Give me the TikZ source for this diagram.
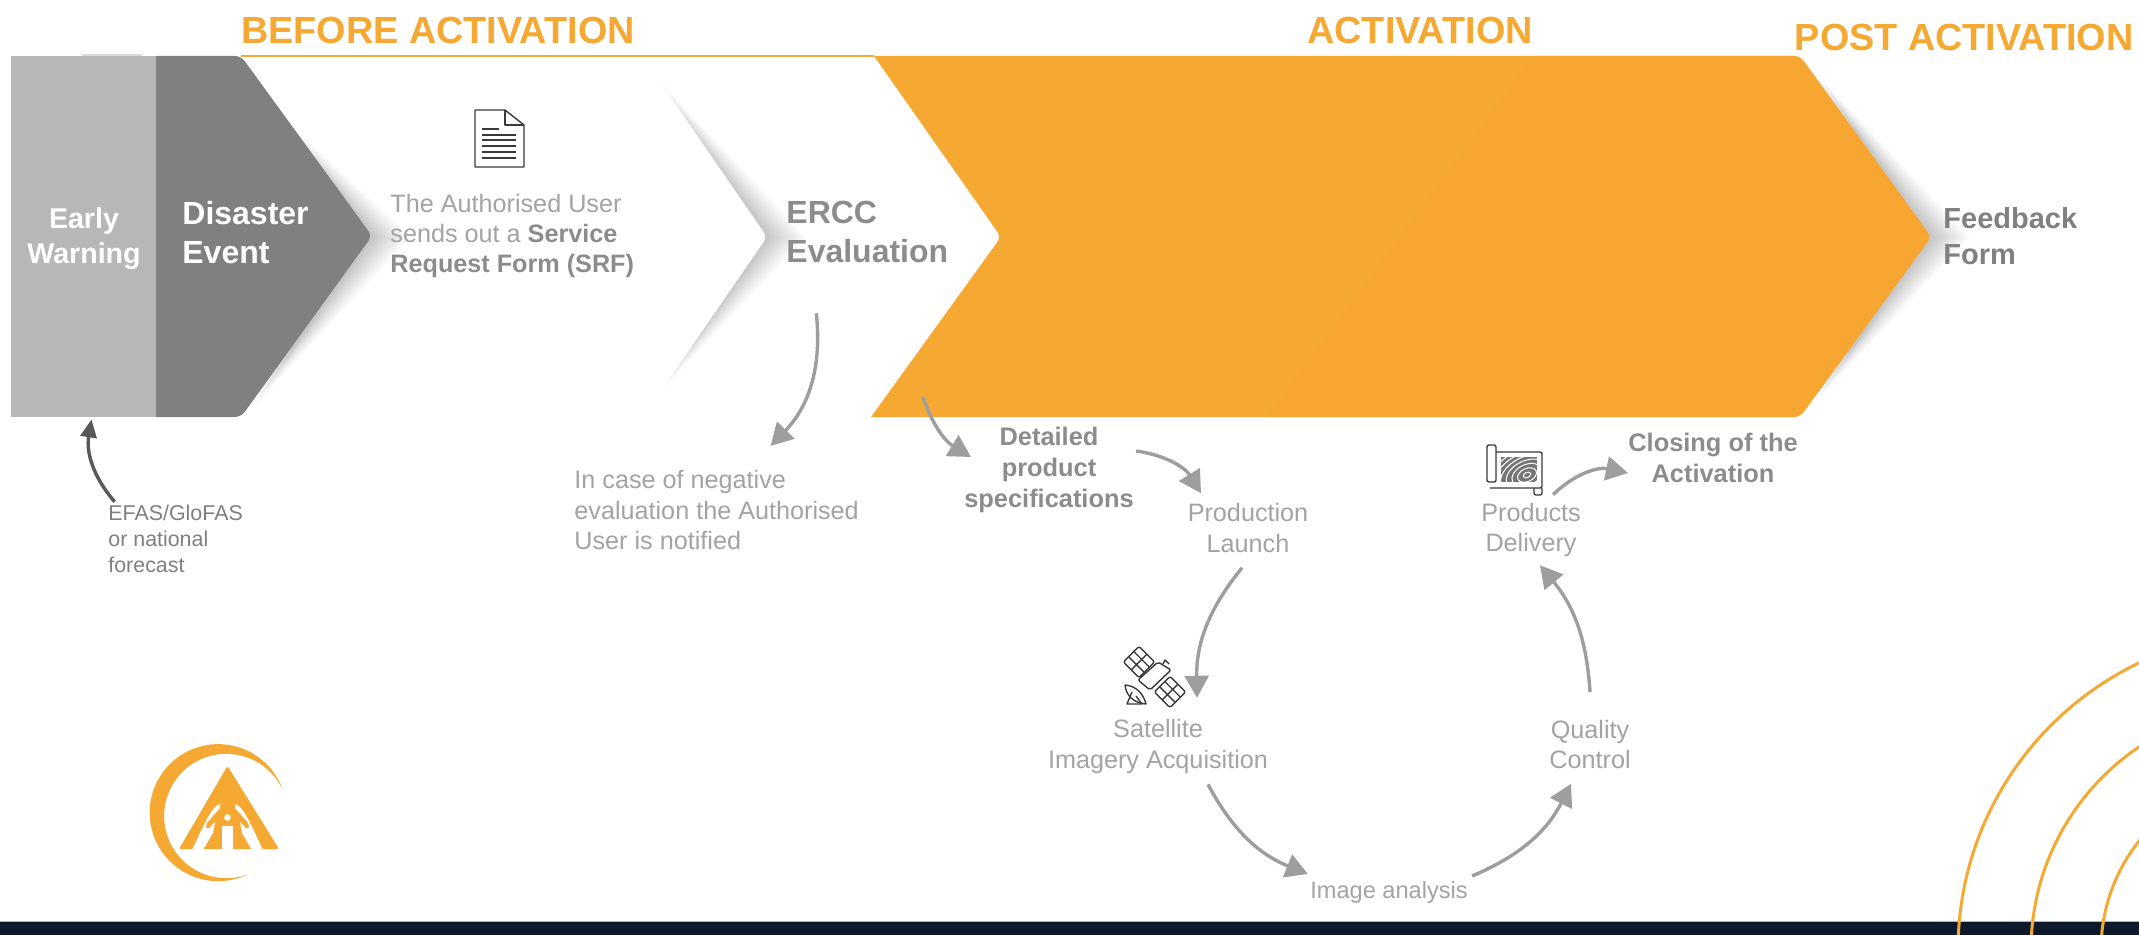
\documentclass[tikz,border=0pt]{standalone}
\usepackage{fontspec}
\setmainfont{Liberation Sans}
\usetikzlibrary{arrows.meta}
\definecolor{bannerorange}{HTML}{F5A933}
\definecolor{bannerdeep}{HTML}{F6A631}
\definecolor{earlygrey}{HTML}{B7B7B7}
\definecolor{eventgrey}{HTML}{808080}
\definecolor{softtext}{HTML}{A3A3A3}
\definecolor{boldtext}{HTML}{8C8C8C}
\definecolor{arrowgrey}{HTML}{9E9E9E}
\definecolor{iconline}{HTML}{3A3A3A}
\definecolor{footbar}{HTML}{0E1A2B}
\newcommand{\tipshadow}[3]{%
	\foreach \d in {1,...,14}
		\fill[black,opacity=0.014] ({#1-0.7*(237-#2-4*(15-\d))},{#2+4*(15-\d)})--(#1+2.8*\d,237)--({#1-0.7*(#3-4*(15-\d)-237)},{#3-4*(15-\d)})--cycle;
}
\tikzset{
	stagetitle/.style={text=bannerorange,font=\fontsize{18.9}{20}\selectfont\bfseries,inner sep=0pt},
	softlabel/.style={text=softtext,font=\fontsize{12.6}{15.2}\selectfont,inner sep=0pt},
	boldlabel/.style={text=boldtext,font=\fontsize{12.7}{15.4}\selectfont\bfseries,inner sep=0pt},
	biglabel/.style={text=boldtext,font=\fontsize{16}{19.5}\selectfont\bfseries,inner sep=0pt,align=left},
	flowarrow/.style={draw=arrowgrey,line width=1.7pt,-{Triangle[length=11pt,width=12pt]}},
	iconpen/.style={draw=iconline,line width=0.7pt,line join=round},
	solarpanel/.pic={
		\draw[iconpen,rounded corners=1pt] (-11,-11) rectangle (11,11);
		\draw[iconpen] (-3.7,-11)--(-3.7,11) (3.7,-11)--(3.7,11) (-11,0)--(11,0);
	}
}
\begin{document}
\begin{tikzpicture}[x=0.5pt,y=-0.5pt]
	\useasboundingbox (0,0) rectangle (2139,935);
	\clip (0,0) rectangle (2139,935);
	\fill[white] (0,0) rectangle (2139,935);
	% foot bar and rings
	\fill[footbar] (0,921) rectangle (2139,935);
	\draw[gray!60,line width=0.5pt] (0,921)--(2139,921);
	\foreach \ringr in {318,245,175}
		\draw[bannerorange,line width=1.5pt] (2276,950) circle[radius=\ringr];
	% shadows and banner
	\tipshadow{1931}{70}{405}
	\fill[bannerorange] (874,56)[rounded corners=3pt]--(1800,56)--(1931,237)--(1800,417)[sharp corners]--(871,417)[rounded corners=3pt]--(1001,237)[sharp corners]--cycle;
	\fill[bannerdeep] (1533,56)[rounded corners=3pt]--(1800,56)--(1931,237)--(1800,417)[sharp corners]--(1267,417)--cycle;
	\tipshadow{767}{70}{400}
	\fill[white,rounded corners=3pt] (643,57)--(767,237)--(643,417)--(240,417)--(240,57)--cycle;
	\tipshadow{372}{130}{410}
	\fill[eventgrey,rounded corners=3pt] (150,56)--(241,56)--(372,236)--(241,417)--(150,417)--cycle;
	\draw[bannerorange,line width=1pt] (241,56)--(874,56);
	\fill[black!14] (82,54) rectangle (142,56);
	\node[fill=earlygrey,minimum width=72.5pt,minimum height=180.5pt,inner sep=0pt] (early) at (83.5,236.5) {};
	\node[text=white,align=center,inner sep=0pt,font=\fontsize{14.3}{17.5}\selectfont\bfseries] (earlytext) at (84,238.5) {Early\\Warning};
	\coordinate (orangefoot) at (923,397);
	% stage titles
	\node[stagetitle] (before) at (438,30) {BEFORE ACTIVATION};
	\node[stagetitle] (during) at (1420,30) {ACTIVATION};
	\node[stagetitle,anchor=east] (post) at (2134,37) {POST ACTIVATION};
	% texts on the banner
	\node[anchor=west,text=white,align=left,inner sep=0pt,font=\fontsize{16}{19.5}\selectfont\bfseries] (event) at (182,233) {Disaster\\Event};
	\node[softlabel,anchor=west,align=left] (srf) at (390,236) {The Authorised User\\sends out a \textcolor{boldtext}{\bfseries Service}\\\textcolor{boldtext}{\bfseries Request Form (SRF)}};
	\node[biglabel,anchor=west] (ercc) at (786,232) {ERCC\\Evaluation};
	\node[anchor=west,text=eventgrey,align=left,inner sep=0pt,font=\fontsize{14.5}{18}\selectfont\bfseries] (feedback) at (1943,236) {Feedback\\Form};
	% texts under the banner
	\node[anchor=west,text=eventgrey,align=left,inner sep=0pt,font=\fontsize{10.7}{13}\selectfont] (efas) at (108,539) {EFAS/GloFAS\\or national\\forecast};
	\node[softlabel,anchor=west,align=left] (negative) at (574,510) {In case of negative\\evaluation the Authorised\\User is notified};
	\node[boldlabel,align=center] (detail) at (1049,470) {Detailed\\product\\specifications};
	\node[softlabel,align=center] (launch) at (1248,528) {Production\\Launch};
	\node[softlabel,align=center] (satellite) at (1158,746.5) {Satellite\\Imagery Acquisition};
	\node[softlabel,font=\fontsize{11.8}{14}\selectfont] (analysis) at (1389,892) {Image analysis};
	\node[softlabel,align=center] (quality) at (1590,744.5) {Quality\\Control};
	\node[softlabel,align=center] (delivery) at (1531,530) {Products\\Delivery};
	\node[boldlabel,align=center] (closing) at (1713,458) {Closing of the\\Activation};
	% connectors
	\draw[draw=iconline!85,line width=1.7pt,-{Triangle[length=9pt,width=8pt]}] ([xshift=-30.5pt,yshift=1.5pt]efas.north) to[bend left=25] ([xshift=4pt,yshift=-1pt]early.south);
	\draw[flowarrow] ([xshift=-25.5pt,yshift=-25pt]ercc.south) to[bend left=25] ([xshift=27pt,yshift=12pt]negative.north);
	\draw[flowarrow] (orangefoot) to[bend right=20] ([xshift=3.5pt,yshift=6.5pt]detail.west);
	\draw[flowarrow] ([xshift=1pt,yshift=9.5pt]detail.east) to[bend left=25] ([xshift=-23.5pt,yshift=5pt]launch.north);
	\draw[flowarrow] ([xshift=-3pt,yshift=-7.5pt]launch.south) to[bend right=20] ([xshift=19.5pt,yshift=10.7pt]satellite.north);
	\draw[flowarrow] ([xshift=25pt,yshift=-5.3pt]satellite.south) to[bend right=20] ([xshift=-1pt,yshift=9pt]analysis.west);
	\draw[flowarrow] ([xshift=2pt,yshift=8pt]analysis.east) to[bend right=20] ([xshift=-9.5pt,yshift=-7.2pt]quality.south);
	\draw[flowarrow] ([yshift=13.8pt]quality.north) to[bend right=18] ([xshift=4.5pt,yshift=-4pt]delivery.south);
	\draw[flowarrow] ([xshift=11pt,yshift=4pt]delivery.north) to[bend left=28] ([yshift=-7.5pt]closing.west);
	% form icon
	\draw[iconpen,fill=white] (475,110)--(505,110)--(524,125)--(524,167)--(475,167)--cycle;
	\draw[iconpen] (505,110)--(505,125)--(524,125);
	\draw[iconpen] (482,129)--(499,129);
	\foreach \ly in {135,140,146,152,158}
		\draw[iconpen] (482,\ly)--(516,\ly);
	% satellite icon
	\pic[rotate=45] at (1139,662) {solarpanel};
	\pic[rotate=45] at (1170,692) {solarpanel};
	\draw[iconpen,fill=white,rounded corners=1pt] (1158,662)--(1171,670)--(1150,690)--(1138,680)--cycle;
	\draw[iconpen] (1163,664)--(1165,660)--(1169,664);
	\draw[iconpen,fill=white] (1125,685) .. controls (1126,696) and (1134,703) .. (1146,704) .. controls (1143,693) and (1136,686) .. (1125,685);
	\draw[iconpen] (1132,692)--(1127,704)--(1142,704)--(1136,696);
	% map icon
	\draw[iconpen,fill=white,rounded corners=1pt] (1496,452)--(1542,452)--(1542,488)--(1490,488);
	\draw[iconpen,fill=white,rounded corners=1pt] (1487,445) rectangle (1496,482);
	\draw[iconpen,rounded corners=1pt] (1534,488)--(1534,495)--(1542,495)--(1542,488);
	\begin{scope}
		\clip (1501,457) rectangle (1537,482);
		\fill[iconline!70] (1501,457) rectangle (1537,482);
		\foreach \wr in {4,10,16,22,28,34,40}
			\draw[white,line width=0.5pt,rotate around={25:(1527,475)}] (1527,475) ellipse[x radius=\wr,y radius=0.65*\wr];
	\end{scope}
	% logo
	\fill[bannerorange] (281.7,787) arc[start angle=-22,end angle=-296,radius=68.5] arc[start angle=-290.6,end angle=-26.6,radius=62.2]--cycle;
	\fill[bannerorange,rounded corners=1pt] (227.5,766)--(279,849)--(179,849)--cycle;
	\foreach \sx in {1,-1}{
		\begin{scope}[shift={(227.5,0)},xscale=\sx]
			\fill[white] (-35.5,850) .. controls (-24,826) and (-16,806) .. (-7.5,804)--(-7.5,808)--(-20.8,823)--(-21.5,828)--(-18.2,828)--(-12.5,822)--(-14.5,833)--(-24.5,850)--cycle;
		\end{scope}
	}
	\fill[white] (227.5,817.5) circle[radius=3.3];
	\fill[white] (222,826) rectangle (233,850);
\end{tikzpicture}
\end{document}
